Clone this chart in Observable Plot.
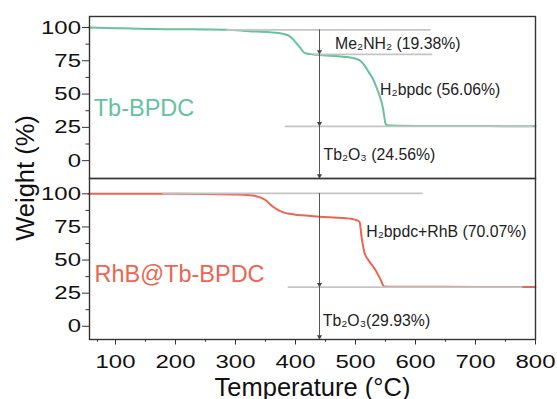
<!DOCTYPE html>
<html><head><meta charset="utf-8">
<script src="https://cdn.jsdelivr.net/npm/d3@7"></script>
<script src="https://cdn.jsdelivr.net/npm/@observablehq/plot@0.6"></script>
<style>
body{margin:0;background:#fff;}
#chart{position:relative;width:557px;height:399px;font-family:"Liberation Sans",Arial,sans-serif;}
#chart svg{display:block;}
</style></head><body><div id="chart"></div>
<script>
// ---- data (temperature °C, weight %) ----
const tempTb   = [55,100,140,200,250,285,323,357,379,390,395,400,407,415,425,434,450,468,485,496,503,507,515,522,529,535,540,546,550,552,570,600,650,700,750,800];
const weightTb = [100,99.5,99.0,98.7,98.5,98.3,97.2,96.5,95.3,93.5,91.5,89,85.2,81,80,79.5,79.0,78.5,77.8,77,76.2,75.3,71.5,66.5,61.5,55,49,39,28,26.5,26.2,26.1,26,26,25.9,25.9];
const tempRhB   = [55,100,200,295,320,329,340,351,357,365,373,380,390,400,412,440,479,495,501,505,507,510,515,520,527,534,541,548,560,600,700,800];
const weightRhB = [100,100,100,99.5,99.2,98.7,97.5,95,92.4,89.5,87.4,86,84.9,84.3,83.8,82.8,81.8,81,80.3,79.5,78.5,68,55.5,51,46.5,42,36,30,29.8,29.8,29.7,29.7];

const xTicks = [100,200,300,400,500,600,700,800];
const xMinor = [70,150,250,350,450,550,650,750];
const yTicks = [0,25,50,75,100];
const yMinor = [12.5,37.5,62.5,87.5];

// reference levels (gray lines) and step arrow
const refTb  = [{x1:285,x2:625,y:98.25},{x1:430,x2:628,y:79.75},{x1:382,x2:795,y:25.75}];
const refRhB = [{x1:178,x2:612,y:100.3},{x1:387,x2:778,y:29.5}];
const arrowT = 440;
const headsTb  = [79.75,25.75,-13.4];
const headsRhB = [29.5,-10];

const notesTb  = [{t:"Me₂NH₂ (19.38%)",x:466,y:84},{t:"H₂bpdc (56.06%)",x:541,y:49.5},{t:"Tb₂O₃ (24.56%)",x:446.7,y:0.75}];
const notesRhB = [{t:"H₂bpdc+RhB (70.07%)",x:518,y:67.2},{t:"Tb₂O₃(29.93%)",x:445.5,y:0}];
const sampleTb  = [{t:"Tb-BPDC",x:63.8,y:33.5}];
const sampleRhB = [{t:"RhB@Tb-BPDC",x:65,y:33.2}];

const green = "#66c29d", red = "#ec6552", gray = "#c4c4c4", dark = "#333";
const font = "Liberation Sans, Arial, sans-serif";
const xDomain = [56.7, 800];

const rowsTb  = tempTb.map((t,i)=>({t, w:weightTb[i]}));
const rowsRhB = tempRhB.map((t,i)=>({t, w:weightRhB[i]}));

function panelMarks(rows, color, refs, heads, yTop, yBottom, notes, sample){
  return [
    Plot.line(rows,{x:"t",y:"w",stroke:color,strokeWidth:2,curve:"monotone-x"}),
    Plot.link(refs,{x1:"x1",x2:"x2",y1:"y",y2:"y",stroke:gray,strokeWidth:1.8}),
    Plot.ruleX([arrowT],{y1:yTop,y2:yBottom,stroke:"#555",strokeWidth:1}),
    Plot.dot(heads,{x:()=>arrowT,y:d=>d,symbol:"triangle",rotate:180,r:1.9,fill:"#444",stroke:"none",dy:-2.8}),
    Plot.text(notes,{x:"x",y:"y",text:"t",textAnchor:"start",lineAnchor:"bottom",fontSize:15.8,fill:"#222"}),
    Plot.text(sample,{x:"x",y:"y",text:"t",textAnchor:"start",lineAnchor:"bottom",fontSize:23.5,fill:color}),
    Plot.axisY(yTicks,{tickSize:7,tickPadding:1.5,fontSize:19,stroke:dark,fill:"#111"}),
    Plot.axisY(yMinor,{tickSize:3.5,text:null,stroke:dark}),
    Plot.frame({stroke:dark,strokeWidth:1.4})
  ];
}

const topPlot = Plot.plot({
  width:557,height:178,marginLeft:89,marginRight:22,marginTop:16,marginBottom:0,
  style:{fontFamily:font,overflow:"visible"},
  x:{domain:xDomain,axis:null},
  y:{domain:[-13.4,108.25],axis:null},
  marks: panelMarks(rowsTb,green,refTb,headsTb,98.25,-13.4,notesTb,sampleTb)
});

const bottomPlot = Plot.plot({
  width:557,height:221,marginLeft:89,marginRight:22,marginTop:0,marginBottom:60,
  style:{fontFamily:font,overflow:"visible",background:"transparent"},
  x:{domain:xDomain,axis:null},
  y:{domain:[-10,111.6],axis:null},
  marks: [
    ...panelMarks(rowsRhB,red,refRhB,headsRhB,100.3,-10,notesRhB,sampleRhB),
    Plot.axisX(xTicks,{tickSize:5.5,tickPadding:9.5,fontSize:19,stroke:dark,fill:"#111",label:null}),
    Plot.axisX(xMinor,{tickSize:2.8,text:null,stroke:dark,label:null}),
    Plot.text(["Temperature (°C)"],{frameAnchor:"bottom",dy:56,lineAnchor:"bottom",fontSize:25.5,fill:"#111"}),
    Plot.text(["Weight (%)"],{frameAnchor:"top-left",dx:-56,dy:-0.5,rotate:-90,textAnchor:"middle",lineAnchor:"bottom",fontSize:25.5,fill:"#111"})
  ]
});

const chart = document.getElementById("chart");
chart.append(topPlot, bottomPlot);

// widen tick label glyphs to match the reference's broad numerals
for (const svg of [topPlot,bottomPlot]) {
  svg.querySelectorAll('[aria-label$="tick label"] text').forEach(el=>{
    let tr = el.getAttribute("transform");
    if (!tr) {
      const x = +el.getAttribute("x")||0, y = +el.getAttribute("y")||0;
      el.removeAttribute("x"); el.removeAttribute("y");
      tr = `translate(${x},${y})`;
    }
    el.setAttribute("transform", tr + " scale(1.26,1)");
  });
}
</script></body></html>
